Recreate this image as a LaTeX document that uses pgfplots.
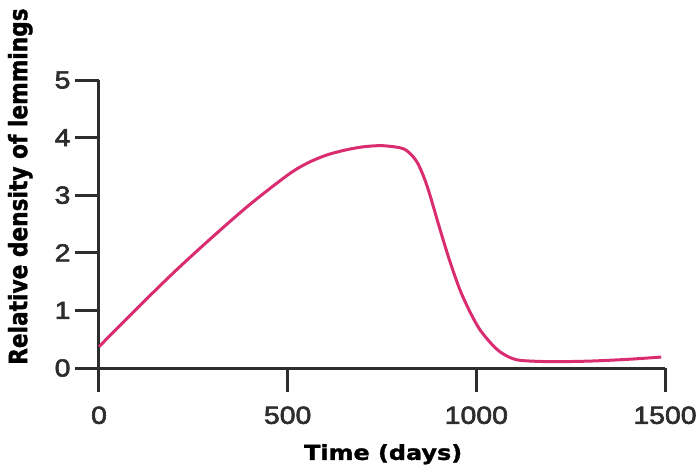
\documentclass[border=0pt]{standalone}
\usepackage{fontspec}
\usepackage{graphicx}
\usepackage{pgfplots}
\pgfplotsset{compat=1.18}

\newfontfamily\tickfont{Liberation Sans}[FakeStretch=1.15, FakeBold=2.5]
\newfontfamily\labelfont{DejaVu Sans}[FakeStretch=1.16, FakeBold=1.5]
\newfontfamily\ylabfont{DejaVu Sans}[FakeBold=1.5]

\definecolor{lemming}{RGB}{218,44,112}
\definecolor{axisgray}{RGB}{45,45,45}

\begin{document}
\begin{tikzpicture}
\useasboundingbox (-99pt,-99pt) rectangle (600pt,368pt);
\begin{axis}[
    scale only axis,
    width=566pt, height=288pt,
    xmin=0, xmax=1500,
    ymin=0, ymax=5,
    axis lines=left,
    axis line style={-, line width=3pt, color=axisgray},
    tick style={line width=3pt, color=axisgray},
    tick align=outside,
    major tick length=24pt,
    xtick={0,500,1000,1500},
    ytick={0,1,2,3,4,5},
    /pgf/number format/assume math mode=true,
    /pgf/number format/1000 sep={},
    tick label style={font=\tickfont\fontsize{24.7}{26}\selectfont, text=axisgray},
    xticklabel style={yshift=-11pt},
    yticklabel style={xshift=-1pt},
    xlabel={\labelfont\bfseries\fontsize{20.6}{24}\selectfont Time (days)},
    xlabel style={at={(axis description cs:0.502,-0.319)}, anchor=base},
    ylabel={\scalebox{1}[1.16]{\ylabfont\bfseries\fontsize{21.7}{24}\selectfont Relative density of lemmings}},
    ylabel style={at={(axis description cs:-0.127,0.63)}, anchor=base, rotate=0},
    clip=false,
]
\addplot[color=lemming, line width=3pt, smooth, tension=0.5] coordinates {
    (0, 0.37)
    (100, 1.03)
    (200, 1.67)
    (300, 2.27)
    (400, 2.84)
    (500, 3.35)
    (550, 3.55)
    (600, 3.69)
    (650, 3.78)
    (700, 3.84)
    (750, 3.86)
    (800, 3.82)
    (822, 3.74)
    (845, 3.55)
    (870, 3.15)
    (904, 2.40)
    (930, 1.85)
    (957, 1.35)
    (985, 0.95)
    (1010, 0.66)
    (1040, 0.42)
    (1063, 0.28)
    (1090, 0.18)
    (1120, 0.13)
    (1200, 0.11)
    (1300, 0.12)
    (1400, 0.15)
    (1490, 0.19)
};
\end{axis}
\end{tikzpicture}
\end{document}
